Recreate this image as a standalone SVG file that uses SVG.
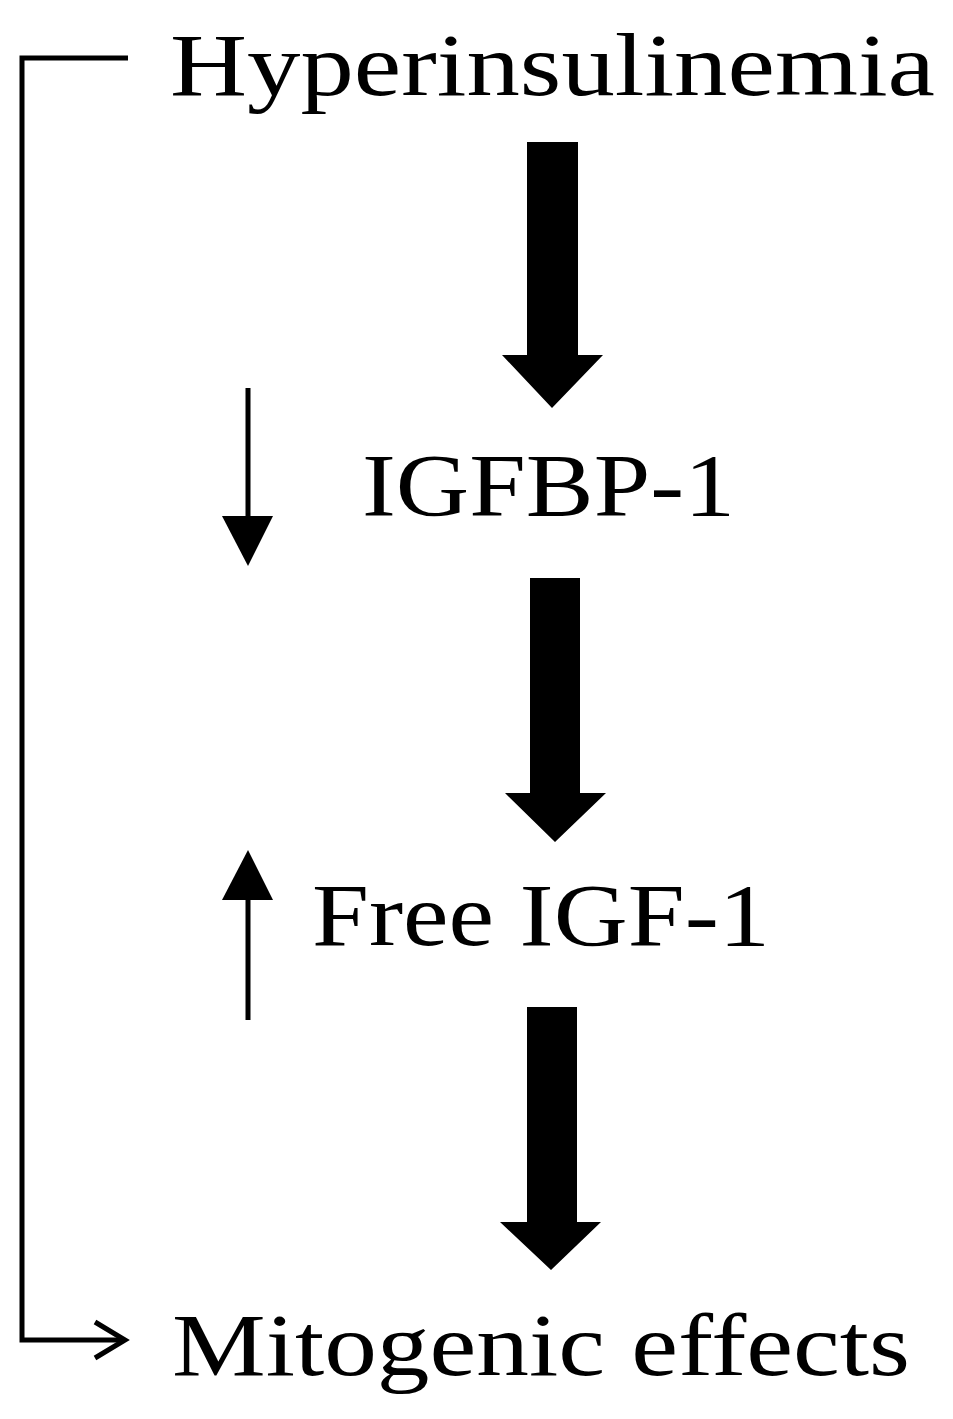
<svg xmlns="http://www.w3.org/2000/svg" width="953" height="1419" viewBox="0 0 953 1419">
<style>
.t{font-family:"Liberation Serif",serif;font-size:88px;fill:#000}
.ln{stroke:#000;stroke-width:5;fill:none}
</style>
<rect width="953" height="1419" fill="#fff"/>
<g id="connectors">
<polygon points="527,142 578,142 578,355 603,355 552,408 502,355 527,355"/>
<polygon points="530,578 580,578 580,793 606,793 555,842 505,793 530,793"/>
<polygon points="527,1007 577,1007 577,1222 601,1222 551,1270 500,1222 527,1222"/>
<line class="ln" x1="248" y1="388" x2="248" y2="520"/>
<polygon points="222,516 273,516 248,566"/>
<line class="ln" x1="248" y1="1020" x2="248" y2="895"/>
<polygon points="222,900 273,900 248,850"/>
<polyline class="ln" points="128,58 22,58 22,1340 125,1340"/>
<polyline class="ln" points="95,1322 125,1340 95,1358"/>
</g>
<g id="n1"><text class="t" x="170" y="95" textLength="765" lengthAdjust="spacingAndGlyphs">Hyperinsulinemia</text></g>
<g id="n2"><text class="t" x="362" y="515" textLength="373" lengthAdjust="spacingAndGlyphs">IGFBP-1</text></g>
<g id="n3"><text class="t" x="312" y="945" textLength="458" lengthAdjust="spacingAndGlyphs">Free IGF-1</text></g>
<g id="n4"><text class="t" x="172" y="1375" textLength="738" lengthAdjust="spacingAndGlyphs">Mitogenic effects</text></g>
</svg>
